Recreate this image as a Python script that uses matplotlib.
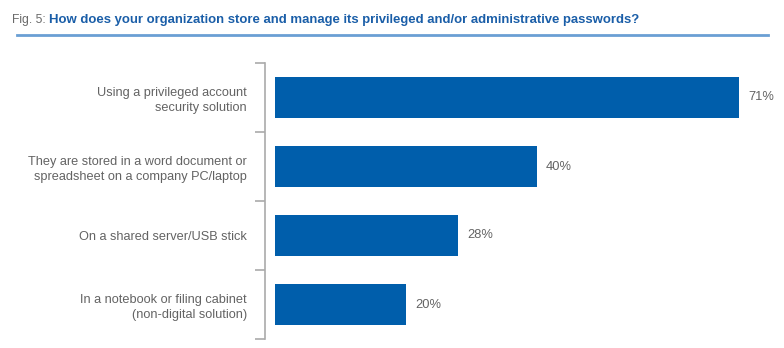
import matplotlib
matplotlib.use("Agg")
import matplotlib.pyplot as plt
from matplotlib.lines import Line2D

categories = [
    "Using a privileged account\nsecurity solution",
    "They are stored in a word document or\nspreadsheet on a company PC/laptop",
    "On a shared server/USB stick",
    "In a notebook or filing cabinet\n(non-digital solution)",
]
values = [71, 40, 28, 20]
value_labels = ["71%", "40%", "28%", "20%"]
title_prefix = "Fig. 5: "
title = "How does your organization store and manage its privileged and/or administrative passwords?"

plt.rcParams["font.family"] = ["Liberation Sans", "DejaVu Sans"]

W, H = 784, 348
fig = plt.figure(figsize=(W / 100, H / 100), dpi=100)
ax = fig.add_axes([275 / W, 1 - 339 / H, 1 - 275 / W, (339 - 63) / H])

bar_color = "#005EAB"
text_gray = "#636363"
pos = list(range(len(categories)))
ax.barh(pos, values, height=0.58, color=bar_color)
for p, v, lab in zip(pos, values, value_labels):
    ax.text(v + 1.4, p, lab, va="center", ha="left", fontsize=9.3, color=text_gray)

ax.set_xlim(0, (W - 275) / 6.54)
ax.set_ylim(len(categories) - 0.5, -0.5)
for s in ["top", "right", "bottom"]:
    ax.spines[s].set_visible(False)
ax.spines["left"].set_position(("outward", 7.2))
ax.spines["left"].set_color("#aaaaaa")
ax.spines["left"].set_linewidth(1.2)
ax.set_xticks([])
ax.set_yticks([i - 0.5 for i in range(len(categories) + 1)])
ax.set_yticklabels([])
ax.tick_params(axis="y", which="major", length=7.2, width=1.2, color="#aaaaaa")
ax.set_yticks(pos, minor=True)
ax.set_yticklabels(categories, minor=True, fontsize=9.2, color=text_gray, linespacing=1.3)
ax.tick_params(axis="y", which="minor", length=0, pad=13)

renderer = fig.canvas.get_renderer()
ty = 1 - 19.5 / H
t1 = fig.text(12 / W, ty, title_prefix, fontsize=8.7, color="#6a6a6a",
              va="center", ha="left")
w1 = t1.get_window_extent(renderer).width
fs = 9.0
t2 = fig.text((12 + w1) / W, ty, title, fontsize=fs, color="#1a5ea8",
              fontweight="bold", va="center", ha="left")
w2 = t2.get_window_extent(renderer).width
target = 641 - 12 - w1
t2.set_fontsize(fs * target / w2)

fig.add_artist(Line2D([17 / W, 768 / W], [1 - 35 / H, 1 - 35 / H], transform=fig.transFigure,
                      color="#6a9fd4", linewidth=2))

fig.savefig("out.png", dpi=100)
